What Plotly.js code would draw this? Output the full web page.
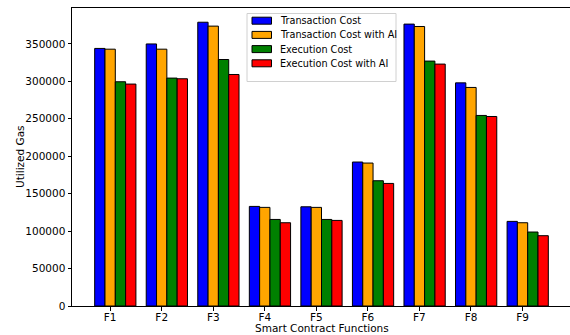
<!DOCTYPE html>
<html>
<head>
<meta charset="utf-8">
<script src="https://cdn.plot.ly/plotly-3.0.1.min.js"></script>
<style>
html,body{margin:0;padding:0;overflow:hidden;background:#fff;}
#chart{width:575px;height:335px;}
</style>
</head>
<body>
<div id="chart"></div>
<script>
const categories = ["F1","F2","F3","F4","F5","F6","F7","F8","F9"];
const transactionCost = [344000, 350000, 379000, 133000, 132500, 192300, 376500, 298000, 113000];
const transactionCostAI = [343000, 343000, 373800, 131700, 131700, 190900, 373300, 291900, 111200];
const executionCost = [299500, 304400, 329200, 115600, 115600, 167300, 327100, 254500, 98800];
const executionCostAI = [296400, 303500, 309200, 111200, 114300, 163700, 323100, 253100, 93900];

const seriesNames = ["Transaction Cost","Transaction Cost with AI","Execution Cost","Execution Cost with AI"];
const seriesValues = [transactionCost, transactionCostAI, executionCost, executionCostAI];
const colors = ["blue","orange","green","red"];
const offsets = [-0.3, -0.1, 0.1, 0.3];

const font = {family: "DejaVu Sans, sans-serif", size: 10.5, color: "black"};
const legendFont = {family: "DejaVu Sans, sans-serif", size: 9.7, color: "black"};

// plot area in pixels
const L = 72, R = 571, T = 8, B = 306;
const px = v => (v - L) / (R - L);
const py = v => (B - v) / (B - T);

const traces = seriesValues.map((vals, i) => ({
  type: "bar",
  name: seriesNames[i],
  x: categories,
  y: vals,
  width: 0.2,
  offset: offsets[i],
  marker: {color: colors[i], line: {color: "black", width: 1}},
  hoverinfo: "x+y+name"
}));

// custom legend (matplotlib style)
const shapes = [{
  type: "rect", xref: "paper", yref: "paper", layer: "above",
  x0: px(247), x1: px(396), y0: py(81.5), y1: py(13.5),
  fillcolor: "rgba(255,255,255,0.8)", line: {color: "#d0d0d0", width: 1}
}];
const annotations = [];
const rows = [20.7, 34.9, 49.1, 63.3];
seriesNames.forEach((name, i) => {
  shapes.push({
    type: "rect", xref: "paper", yref: "paper", layer: "above",
    x0: px(252), x1: px(271.5), y0: py(rows[i] + 3.5), y1: py(rows[i] - 3.5),
    fillcolor: colors[i], line: {color: "black", width: 1}
  });
  annotations.push({
    xref: "paper", yref: "paper", x: px(278), y: py(rows[i]),
    xanchor: "left", yanchor: "middle", showarrow: false,
    text: name, font: legendFont
  });
});
annotations.push({
  xref: "paper", yref: "paper", x: px(321.5), y: py(327.5),
  xanchor: "center", yanchor: "middle", showarrow: false,
  text: "Smart Contract Functions", font: font
});
annotations.push({
  xref: "paper", yref: "paper", x: px(20), y: py(157),
  xanchor: "center", yanchor: "middle", showarrow: false, textangle: -90,
  text: "Utilized Gas", font: font
});

const layout = {
  width: 575,
  height: 335,
  margin: {l: L, r: 575 - R, t: T, b: 335 - B, pad: 0},
  paper_bgcolor: "white",
  plot_bgcolor: "white",
  barmode: "overlay",
  font: font,
  showlegend: false,
  shapes: shapes,
  annotations: annotations,
  xaxis: {
    type: "category",
    range: [-0.74, 8.94],
    showline: true, linecolor: "black", linewidth: 1, mirror: true,
    ticks: "outside", ticklen: 3.5, tickcolor: "black", tickwidth: 1,
    ticklabelstandoff: -2,
    showgrid: false, zeroline: false,
    tickfont: font
  },
  yaxis: {
    range: [0, 398000],
    dtick: 50000, tick0: 0,
    tickformat: "d",
    showline: true, linecolor: "black", linewidth: 1, mirror: true,
    ticks: "outside", ticklen: 3.5, tickcolor: "black", tickwidth: 1,
    showgrid: false, zeroline: false,
    tickfont: font
  }
};

Plotly.newPlot("chart", traces, layout, {displayModeBar: false, staticPlot: true});
</script>
</body>
</html>
